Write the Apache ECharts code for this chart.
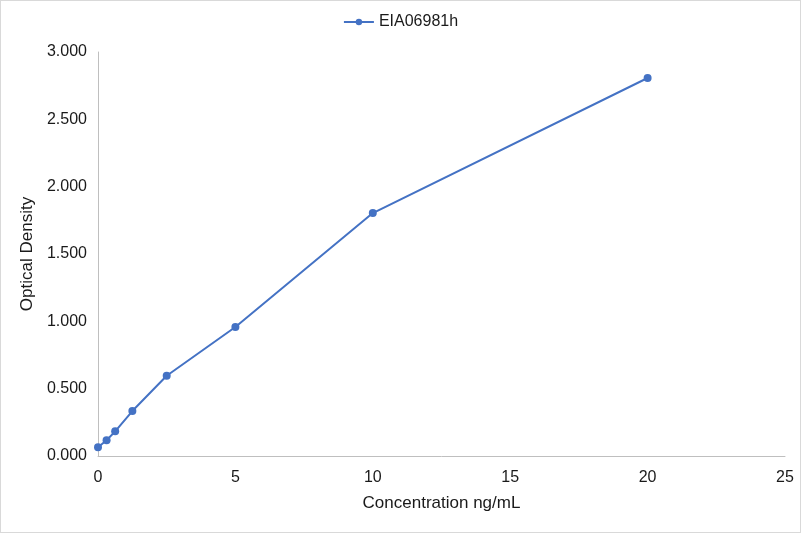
<!DOCTYPE html>
<html>
<head>
<meta charset="utf-8">
<script src="https://cdn.jsdelivr.net/npm/echarts@6/dist/echarts.min.js"></script>
<style>
  html, body { margin: 0; padding: 0; background: #fff; }
  #chart { width: 799px; height: 531px; border: 1px solid #d9d9d9; }
</style>
</head>
<body>
<div id="chart"></div>
<script>
// standard curve points
const concentrations = [0, 0.3125, 0.625, 1.25, 2.5, 5, 10, 20]
const densities = [0.065, 0.117, 0.183, 0.334, 0.596, 0.958, 1.804, 2.807]
const seriesName = 'EIA06981h'

const chart = echarts.init(document.getElementById('chart'))
const font = 'Liberation Sans, Arial, sans-serif'
const textColor = '#1a1a1a'

chart.setOption({
  animation: false,
  textStyle: { fontFamily: font },
  legend: {
    top: 8,
    left: 'center',
    itemWidth: 30,
    itemHeight: 8,
    itemGap: 10,
    textStyle: { fontSize: 16, color: textColor, fontFamily: font },
    data: [seriesName]
  },
  grid: { left: 97, right: 15, top: 51, bottom: 76 },
  xAxis: {
    type: 'value',
    min: 0,
    max: 25,
    interval: 5,
    name: 'Concentration ng/mL',
    nameLocation: 'middle',
    nameGap: 39,
    nameTextStyle: { fontSize: 17, color: textColor },
    axisLine: { lineStyle: { color: '#bfbfbf' } },
    axisTick: { show: false },
    splitLine: { show: false },
    axisLabel: { fontSize: 16, color: textColor, margin: 14 }
  },
  yAxis: {
    type: 'value',
    min: 0,
    max: 3,
    interval: 0.5,
    name: 'Optical Density',
    nameLocation: 'middle',
    nameGap: 57,
    nameTextStyle: { fontSize: 17, color: textColor },
    axisLine: { show: true, lineStyle: { color: '#bfbfbf' } },
    axisTick: { show: false },
    splitLine: { show: false },
    axisLabel: {
      fontSize: 16,
      color: textColor,
      margin: 11,
      formatter: v => v.toFixed(3)
    }
  },
  series: [{
    name: seriesName,
    type: 'line',
    data: concentrations.map((c, i) => [c, densities[i]]),
    symbol: 'circle',
    symbolSize: 8,
    itemStyle: { color: '#4472c4' },
    lineStyle: { color: '#4472c4', width: 2 }
  }]
})
</script>
</body>
</html>
